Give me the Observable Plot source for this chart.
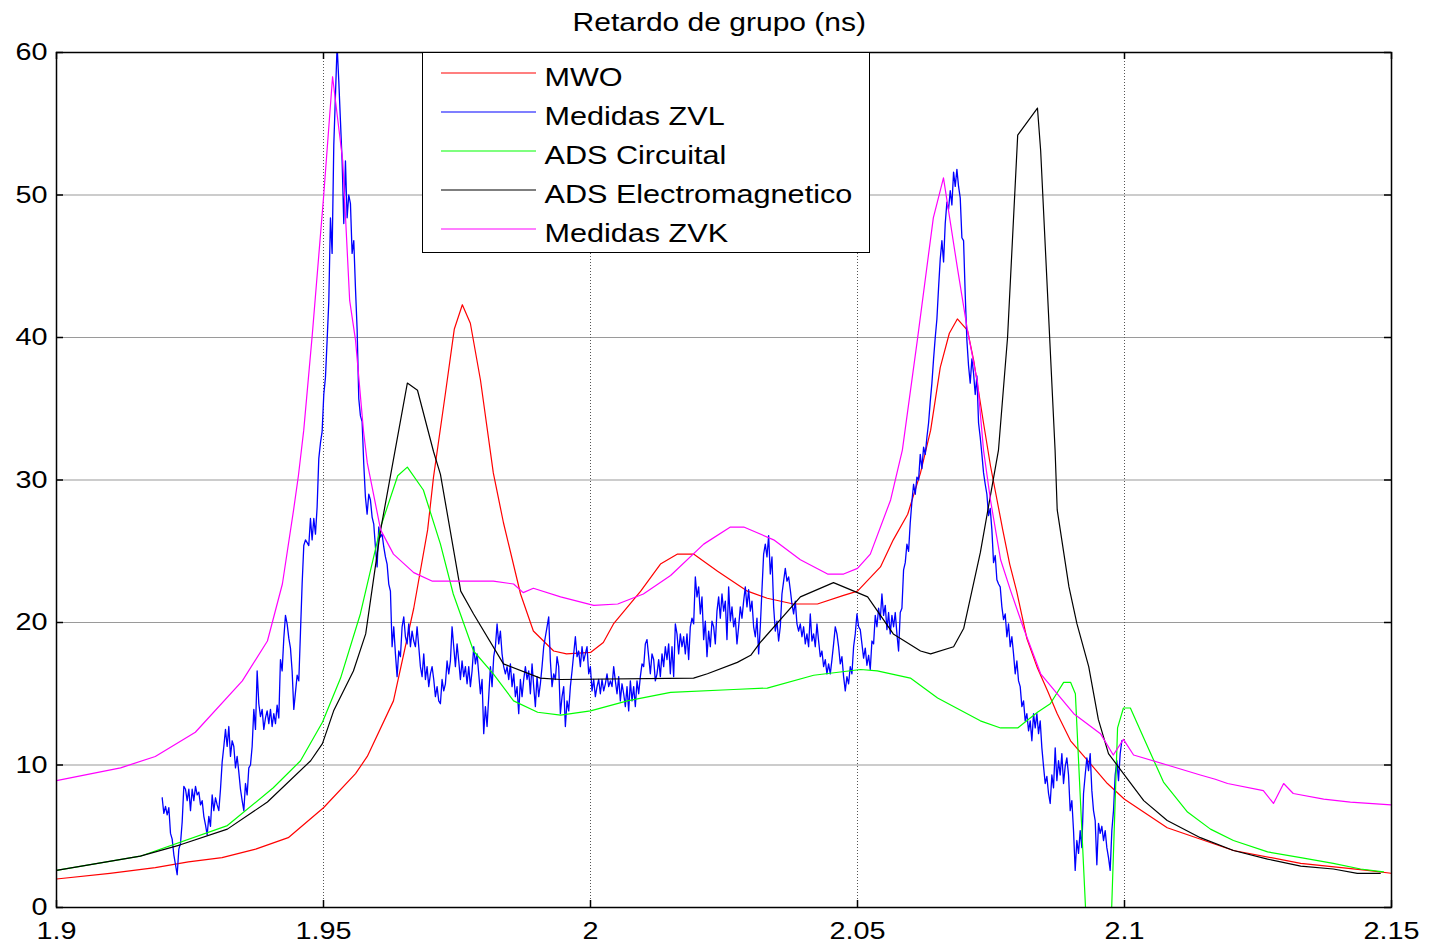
<!DOCTYPE html>
<html><head><meta charset="utf-8">
<script src="https://cdn.jsdelivr.net/npm/d3@7"></script>
<script src="https://cdn.jsdelivr.net/npm/@observablehq/plot@0.6"></script>
<style>
html,body{margin:0;padding:0;background:#fff;}
body{width:1432px;height:949px;position:relative;overflow:hidden;font-family:"Liberation Sans",Arial,sans-serif;}
#title{padding-top:8px;height:28px;width:1439px;text-align:center;line-height:28px;font-size:25px;white-space:nowrap;color:#000;}
#title span{display:inline-block;transform:scaleX(1.2);}
#chart svg{display:block;overflow:visible;}
#legend{position:absolute;left:422px;top:52px;width:448px;height:201px;box-sizing:border-box;border:1.5px solid #000;background:#fff;}
#legend svg{display:block;}
</style></head>
<body>
<div id="title"><span>Retardo de grupo (ns)</span></div>
<div id="chart"></div>
<div id="legend"></div>
<script>
const xTicks = [1.9, 1.95, 2, 2.05, 2.1, 2.15];
const xTickLabels = ["1.9", "1.95", "2", "2.05", "2.1", "2.15"];
const yTicks = [0, 10, 20, 30, 40, 50, 60];

const seriesNames = ["MWO", "Medidas ZVL", "ADS Circuital", "ADS Electromagnetico", "Medidas ZVK"];
const seriesColors = ["#ff0000", "#0000ff", "#00ff00", "#000000", "#ff00ff"];

// [frequency GHz, group delay ns]
const mwo = [[1.9,2.0],[1.91,2.4],[1.9185,2.8],[1.9247,3.2],[1.931,3.5],[1.9373,4.1],[1.9434,4.9],[1.95,7.0],[1.956,9.4],[1.9582,10.6],[1.9631,14.5],[1.9669,21],[1.9695,26.5],[1.9706,30.2],[1.9728,36],[1.9745,40.6],[1.976,42.3],[1.9775,41],[1.9794,37],[1.9818,30.5],[1.9837,27],[1.9869,22],[1.9893,19.4],[1.9931,18.0],[1.9955,17.8],[2.0,17.9],[2.0024,18.6],[2.0043,19.9],[2.0094,22.2],[2.0131,24.1],[2.0163,24.8],[2.0193,24.8],[2.0238,23.6],[2.0294,22.2],[2.0331,21.7],[2.038,21.3],[2.0425,21.3],[2.0474,21.9],[2.05,22.2],[2.0543,23.9],[2.0567,25.8],[2.0594,27.6],[2.0618,30.5],[2.0637,33.5],[2.0655,37.9],[2.0672,40.3],[2.0687,41.3],[2.0706,40.5],[2.0718,38.3],[2.0736,34],[2.0749,31],[2.0772,26.5],[2.0785,24.1],[2.0798,22.2],[2.0817,18.9],[2.0837,16.8],[2.0856,15.2],[2.0874,13.6],[2.0899,11.7],[2.0936,10.1],[2.0968,8.7],[2.1,7.6],[2.108,5.6],[2.1204,4.0],[2.133,3.1],[2.1455,2.6],[2.15,2.4]];

const adsCircuital = [[1.9,2.6],[1.9157,3.6],[1.932,5.75],[1.9406,8.4],[1.9457,10.3],[1.9498,13.0],[1.9532,16.1],[1.9569,20.6],[1.9607,26.7],[1.9639,30.3],[1.9657,30.9],[1.9687,29.3],[1.9719,25.5],[1.9743,22.0],[1.9781,18.0],[1.9818,16.4],[1.9856,14.5],[1.9901,13.7],[1.9944,13.5],[2.0,13.8],[2.0069,14.5],[2.015,15.1],[2.0268,15.3],[2.0331,15.4],[2.0418,16.3],[2.0506,16.7],[2.0537,16.6],[2.0599,16.1],[2.065,14.7],[2.073,13.1],[2.0768,12.6],[2.08,12.6],[2.0837,13.7],[2.0861,14.3],[2.0886,15.8],[2.0899,15.8],[2.0908,15.0],[2.0927,0],[2.0976,0],[2.0987,12.6],[2.0998,14.0],[2.1011,14.0],[2.1036,11.9],[2.1073,8.8],[2.1118,6.7],[2.1161,5.5],[2.1204,4.7],[2.1268,3.9],[2.133,3.5],[2.1391,3.1],[2.1442,2.7],[2.1485,2.5]];

const adsElectromagnetico = [[1.9,2.6],[1.9157,3.6],[1.9232,4.4],[1.932,5.5],[1.9395,7.4],[1.9476,10.3],[1.9498,11.5],[1.9519,13.8],[1.9556,16.6],[1.9579,19.2],[1.9607,26.5],[1.9657,36.8],[1.9676,36.3],[1.9706,32],[1.9719,30.4],[1.9757,22.2],[1.9781,20.6],[1.9837,17.1],[1.9906,16.1],[1.9944,16.0],[2.0193,16.1],[2.0219,16.4],[2.0275,17.2],[2.03,17.7],[2.0318,18.6],[2.0393,21.8],[2.0455,22.8],[2.0519,21.8],[2.0567,19.2],[2.0618,18.0],[2.0637,17.8],[2.068,18.3],[2.0699,19.6],[2.073,24.9],[2.0764,32.1],[2.0781,40],[2.08,54.2],[2.0837,56.1],[2.0843,53.1],[2.087,32.1],[2.0874,27.9],[2.0896,22.5],[2.0911,19.9],[2.0933,16.9],[2.0951,13.2],[2.097,10.8],[2.0998,9.4],[2.1036,7.5],[2.108,6.1],[2.1142,4.9],[2.1204,4.0],[2.1268,3.4],[2.133,2.9],[2.1391,2.7],[2.1436,2.4],[2.1479,2.4]];

const medidasZVK = [[1.9,8.9],[1.912,9.8],[1.9185,10.6],[1.926,12.3],[1.9348,15.9],[1.9395,18.7],[1.9423,22.7],[1.9444,27.9],[1.9453,30.3],[1.9463,33.5],[1.9479,40.2],[1.95,49.8],[1.9517,58.3],[1.9536,52.4],[1.9549,42.6],[1.956,39.8],[1.9575,33.4],[1.9582,31.2],[1.9607,26.5],[1.9631,24.8],[1.9669,23.5],[1.9704,22.9],[1.9818,22.9],[1.9856,22.7],[1.9874,22.1],[1.9893,22.4],[1.9944,21.8],[2.0006,21.2],[2.0051,21.3],[2.0099,22.0],[2.015,23.3],[2.0212,25.5],[2.0262,26.7],[2.0287,26.7],[2.0343,25.8],[2.0393,24.4],[2.0444,23.4],[2.0474,23.4],[2.05,23.8],[2.0524,24.8],[2.0562,28.6],[2.0584,32.1],[2.0612,39.8],[2.0642,48.4],[2.0661,51.2],[2.0687,44.9],[2.0706,40.5],[2.0725,36.8],[2.0736,32.1],[2.0749,28.6],[2.0768,24.4],[2.0787,22.2],[2.0811,19.6],[2.0843,16.4],[2.0905,13.6],[2.0955,12.2],[2.0979,10.7],[2.0998,11.8],[2.1017,10.7],[2.108,10.0],[2.1142,9.3],[2.117,9.0],[2.1193,8.7],[2.126,8.2],[2.1279,7.3],[2.1298,8.7],[2.1316,8.0],[2.1373,7.6],[2.1423,7.4],[2.15,7.2]];

// Medidas ZVL: measured sweep, start frequency and step (GHz), delays (ns)
const zvlStart = 1.91979;
const zvlStep = 0.000312;
const zvlDelay = [
7.7,6.6,7.1,6.5,7.0,5.2,4.8,3.7,3.0,2.3,4.1,4.5,6.0,8.5,8.3,7.5,8.3,6.8,8.3,7.5,
8.5,7.9,8.1,7.2,7.5,6.4,5.8,5.1,6.4,5.7,7.9,6.8,7.7,7.2,6.8,8.3,10.2,11.3,12.5,11.3,
12.7,10.6,11.7,11.3,9.8,10.6,9.5,8.3,7.5,6.8,8.7,7.9,9.8,10.0,11.3,13.9,12.5,16.6,14.3,13.4,
13.9,12.5,13.3,13.8,12.9,13.9,12.7,13.6,12.9,14.2,13.3,17.4,16.6,18.9,20.5,19.9,18.9,18.2,16.6,13.9,
15.1,16.3,15.9,19.3,22.7,25.4,25.8,25.6,25.4,27.3,25.8,27.3,26.2,28.1,31.5,32.6,33.4,36.0,37.2,39.8,
42.5,48.4,45.9,53.5,57.0,60.5,58.0,55.2,52.4,48.0,52.4,48.4,50.0,49.4,45.9,46.8,43.5,40.6,35.7,34.5,
34.1,31.1,28.8,
27.6,29.0,28.6,27.4,26.9,25.3,23.9,26.7,26.0,26.2,
25.3,24.6,24.1,22.7,22.2,18.3,19.7,17.8,16.2,18.0,
17.6,19.7,20.4,19.0,18.5,19.9,18.3,19.4,18.7,18.3,
19.7,18.3,16.9,16.2,17.8,16.0,16.9,15.5,16.4,16.9,
16.0,14.8,15.5,14.5,14.3,16.0,15.2,15.7,17.3,16.4,
17.3,19.7,18.3,16.9,18.5,17.3,16.0,17.3,16.2,16.9,
15.7,16.9,15.5,16.6,18.3,17.1,17.8,16.4,15.0,16.0,
12.2,14.1,12.7,14.8,16.9,15.5,17.6,18.3,19.9,18.5,
19.4,17.8,16.9,16.4,16.9,16.0,17.1,15.5,16.4,14.8,
15.5,13.6,16.0,14.8,16.0,16.9,16.0,16.6,15.0,17.1,
15.5,14.1,16.2,14.8,15.7,16.9,18.3,19.0,19.7,20.4,
17.3,15.5,16.4,16.0,17.6,16.9,13.6,14.8,15.5,12.7,
14.5,13.8,15.5,16.6,17.8,19.0,17.6,18.0,16.9,18.3,
17.3,17.8,18.3,16.4,16.9,15.2,16.0,14.8,15.5,16.0,
15.0,16.0,15.2,
15.7,16.4,15.5,15.9,15.5,16.9,15.9,15.0,16.2,14.5,
15.7,15.0,14.1,15.5,13.8,15.9,14.5,15.5,14.1,15.9,
15.0,16.2,17.1,16.9,18.5,18.8,17.6,16.4,17.8,17.4,
15.9,16.4,17.4,16.2,17.8,16.9,18.3,17.4,18.5,16.4,
18.3,16.2,19.9,19.2,17.8,19.2,18.3,19.0,17.8,19.2,
17.4,19.7,20.3,19.9,23.2,21.8,22.5,20.6,21.8,18.8,
20.1,17.6,19.4,18.3,20.1,19.7,18.5,20.8,21.8,20.3,
22.0,20.8,21.5,18.8,22.5,20.1,21.1,19.7,20.3,18.5,
19.7,21.1,20.3,21.5,22.5,21.1,22.3,20.8,21.5,19.7,
19.0,20.3,17.8,19.7,22.3,24.8,25.5,24.6,26.1,23.4,
24.6,21.1,19.4,20.1,18.7,19.7,22.0,22.9,23.8,22.9,
23.2,22.3,21.3,20.6,21.5,19.9,19.4,19.9,19.0,19.7,
18.5,19.2,18.3,20.6,18.7,19.2,18.3,19.9,18.7,17.6,
18.0,16.9,17.4,16.4,17.1,16.4,17.4,18.5,19.7,19.2,
18.3,17.1,17.6,16.2,15.2,16.2,15.7,16.9,16.4,18.3,
19.2,20.6,19.7,
19.5,18.5,17.5,18.2,17.0,17.7,16.7,18.7,18.5,20.5,
19.7,21.0,20.2,22.0,20.5,21.2,19.5,20.7,19.2,20.5,
19.7,20.7,19.2,18.0,20.7,21.0,23.7,24.2,25.5,25.0,
27.0,28.5,29.7,29.0,30.2,30.0,31.8,30.8,32.3,31.8,
33.0,34.0,35.5,36.8,38.5,40.0,41.3,43.5,45.5,46.8,
45.3,48.0,49.5,49.0,50.3,49.3,51.6,50.6,51.8,50.6,
49.8,47.0,46.8,43.0,39.8,38.0,36.8,38.5,37.5,36.0,
37.3,34.0,33.0,31.8,30.5,29.7,29.0,27.5,28.0,26.5,
24.2,24.7,23.0,22.7,
22.5,21.1,20.2,20.6,19.0,19.9,18.3,19.0,17.8,16.4,
17.3,15.9,15.5,14.1,14.5,13.1,13.6,12.4,13.1,11.7,
13.6,12.6,13.6,12.2,13.1,11.2,9.9,8.7,9.2,8.0,
7.3,9.3,8.4,11.2,8.9,10.3,9.3,10.8,8.7,9.9,
10.5,9.3,6.8,7.5,5.4,2.6,4.7,3.8,5.4,4.2,
8.0,9.3,10.5,9.6,10.8,8.2,6.8,6.1,3.0,5.9,
5.2,5.7,4.7,5.4,4.2,3.5,2.6,5.4,6.8,9.3,
10.3,8.9,10.8,11.7
];

const medidasZVL = zvlDelay.map((v, i) => [zvlStart + i * zvlStep, v]);
const seriesData = [mwo, medidasZVL, adsCircuital, adsElectromagnetico, medidasZVK];

const W = 1432, H = 913;
const mT = 16, mR = 41, mB = 42, mL = 56;
const innerW = W - mL - mR, innerH = H - mT - mB;
const tickLen = 7;

const lineMarks = seriesData.map((data, k) =>
  Plot.line(data, {x: d => d[0], y: d => d[1], stroke: seriesColors[k], strokeWidth: k === 1 ? 1.3 : 1.2, clip: true})
);

const chart = Plot.plot({
  width: W, height: H,
  marginTop: mT, marginRight: mR, marginBottom: mB, marginLeft: mL,
  x: {domain: [1.9, 2.15]},
  y: {domain: [0, 60]},
  style: {fontFamily: "Liberation Sans", fontSize: "24px", color: "#000", background: "transparent", overflow: "visible"},
  marks: [
    Plot.gridY(yTicks.slice(1, -1), {stroke: "#9a9a9a", strokeOpacity: 1, strokeWidth: 1.2}),
    Plot.gridX(xTicks.slice(1, -1), {stroke: "#555", strokeOpacity: 1, strokeWidth: 1, strokeDasharray: "1,2"}),
    ...lineMarks,
    Plot.tickX(xTicks, {x: d => d, insetTop: innerH - tickLen, stroke: "#000", strokeWidth: 1.5}),
    Plot.tickX(xTicks, {x: d => d, insetBottom: innerH - tickLen, stroke: "#000", strokeWidth: 1.5}),
    Plot.tickY(yTicks, {y: d => d, insetRight: innerW - tickLen, stroke: "#000", strokeWidth: 1.5}),
    Plot.tickY(yTicks, {y: d => d, insetLeft: innerW - tickLen, stroke: "#000", strokeWidth: 1.5}),
    Plot.frame({stroke: "#000", strokeWidth: 1.5}),
    Plot.axisX(xTicks, {tickFormat: d => xTickLabels[xTicks.indexOf(d)], tickSize: 0, tickPadding: 14, fontSize: 24, label: null}),
    Plot.axisY(yTicks, {tickSize: 0, tickPadding: 9, fontSize: 24, label: null})
  ]
});

// widen glyphs horizontally, as in the reference export
chart.querySelectorAll("text").forEach(t => {
  let tr = t.getAttribute("transform") || "";
  const x = t.getAttribute("x");
  if (x !== null && !isNaN(+x)) { tr += ` translate(${x},0)`; t.removeAttribute("x"); }
  t.setAttribute("transform", (tr + " scale(1.2,1)").trim());
});

document.getElementById("chart").appendChild(chart);

const leg = d3.select("#legend").append("svg").attr("width", 445).attr("height", 198);
seriesNames.forEach((name, i) => {
  const y = 20 + 39 * i;
  leg.append("line").attr("x1", 18).attr("x2", 113).attr("y1", y).attr("y2", y)
    .attr("stroke", seriesColors[i]).attr("stroke-width", 1.2);
  leg.append("text").attr("transform", `translate(121.5,${y + 13}) scale(1.2,1)`)
    .attr("font-size", 25.5).attr("font-family", "Liberation Sans").attr("fill", "#000").text(name);
});
</script>
</body></html>
